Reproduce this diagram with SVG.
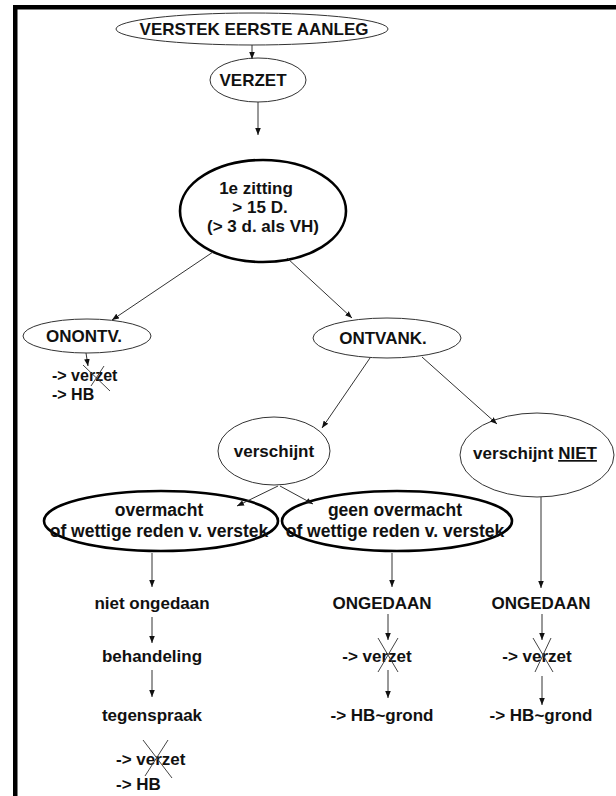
<svg xmlns="http://www.w3.org/2000/svg" width="616" height="796" viewBox="0 0 616 796">
<defs>
<marker id="ah" viewBox="0 0 8 8" refX="8" refY="4" markerWidth="7" markerHeight="7" markerUnits="userSpaceOnUse" orient="auto">
<path d="M0,0.8 L8,4 L0,7.2 Z" fill="#111"/>
</marker>
</defs>
<style>
text{font-family:"Liberation Sans",Arial,sans-serif;font-weight:bold;font-size:17px;fill:#111}
.c{text-anchor:middle}
.big{font-size:17.5px}
.sm{font-size:16px}
.thin{fill:#fff;stroke:#333;stroke-width:1}
.thick{fill:#fff;stroke:#000;stroke-width:2.6}
.con line{stroke:#333;stroke-width:1;marker-end:url(#ah)}
.x line{stroke:#444;stroke-width:1}
</style>
<rect x="0" y="0" width="616" height="796" fill="#fff"/>
<rect x="13" y="5" width="603" height="4.5" fill="#000"/>
<rect x="13" y="5" width="4.5" height="791" fill="#000"/>

<g id="verstek">
<ellipse class="thin" cx="252" cy="29" rx="136" ry="16"/>
<text class="c" x="254" y="35">VERSTEK EERSTE AANLEG</text>
</g>
<g id="verzet">
<ellipse class="thin" cx="258" cy="80" rx="48" ry="22"/>
<text class="c" x="253" y="86">VERZET</text>
</g>
<g id="zitting">
<ellipse class="thick" cx="263" cy="211" rx="83" ry="51"/>
<text class="c" x="256" y="194">1e zitting</text>
<text class="c" x="260" y="213">&gt; 15 D.</text>
<text class="c" x="263" y="232">(&gt; 3 d. als VH)</text>
</g>
<g id="onontv">
<ellipse class="thin" cx="87" cy="336" rx="64" ry="17"/>
<text class="c" x="84" y="342">ONONTV.</text>
</g>
<g id="onontv-res">
<text class="sm" x="52" y="381">-&gt; verzet</text>
<text class="sm" x="52" y="400">-&gt; HB</text>
</g>
<g id="ontvank">
<ellipse class="thin" cx="387" cy="338" rx="74" ry="20"/>
<text class="c" x="383" y="344">ONTVANK.</text>
</g>
<g id="verschijnt">
<ellipse class="thin" cx="274" cy="451" rx="56" ry="34"/>
<text class="c" x="274" y="457">verschijnt</text>
</g>
<g id="verschijnt-niet">
<ellipse class="thin" cx="537" cy="455" rx="77" ry="42"/>
<text class="c" x="535" y="459">verschijnt <tspan text-decoration="underline">NIET</tspan></text>
</g>
<g id="overmacht">
<ellipse class="thick" cx="161" cy="521" rx="117" ry="30"/>
<text class="c big" x="159" y="516">overmacht</text>
<text class="c big" x="159" y="537">of wettige reden v. verstek</text>
</g>
<g id="geen-overmacht">
<ellipse class="thick" cx="397" cy="521" rx="115" ry="30"/>
<text class="c big" x="395" y="516">geen overmacht</text>
<text class="c big" x="395" y="537">of wettige reden v. verstek</text>
</g>
<g id="niet-ongedaan"><text class="c" x="152" y="609">niet ongedaan</text></g>
<g id="behandeling"><text class="c" x="152" y="662">behandeling</text></g>
<g id="tegenspraak"><text class="c" x="152" y="721">tegenspraak</text></g>
<g id="tegenspraak-res">
<text x="116" y="765">-&gt; verzet</text>
<text x="116" y="790">-&gt; HB</text>
</g>
<g id="ongedaan-1"><text class="c" x="382" y="609">ONGEDAAN</text></g>
<g id="verzet-1"><text class="c" x="377" y="662">-&gt; verzet</text></g>
<g id="hbgrond-1"><text class="c" x="382" y="721">-&gt; HB~grond</text></g>
<g id="ongedaan-2"><text class="c" x="541" y="609">ONGEDAAN</text></g>
<g id="verzet-2"><text class="c" x="537" y="662">-&gt; verzet</text></g>
<g id="hbgrond-2"><text class="c" x="541" y="721">-&gt; HB~grond</text></g>

<g id="connectors" class="con">
<line x1="252" y1="45" x2="252" y2="59"/>
<line x1="258" y1="102" x2="258" y2="135"/>
<line x1="213" y1="252" x2="112" y2="320"/>
<line x1="287" y1="258" x2="352" y2="318"/>
<line x1="86" y1="353" x2="88" y2="366"/>
<line x1="370" y1="358" x2="322" y2="428"/>
<line x1="422" y1="357" x2="497" y2="424"/>
<line x1="278" y1="486" x2="237" y2="506"/>
<line x1="280" y1="486" x2="313" y2="504"/>
<line x1="152" y1="553" x2="152" y2="587"/>
<line x1="392" y1="553" x2="392" y2="587"/>
<line x1="541" y1="497" x2="541" y2="588"/>
<line x1="152" y1="617" x2="152" y2="643"/>
<line x1="152" y1="670" x2="152" y2="697"/>
<line x1="388" y1="614" x2="388" y2="640"/>
<line x1="388" y1="670" x2="388" y2="698"/>
<line x1="542" y1="614" x2="542" y2="640"/>
<line x1="542" y1="676" x2="542" y2="705"/>
</g>
<g id="strike" class="x">
<line x1="83" y1="365" x2="110" y2="391"/>
<line x1="104" y1="366" x2="91" y2="386"/>
<line x1="143" y1="740" x2="172" y2="778"/>
<line x1="168" y1="740" x2="145" y2="776"/>
<line x1="378" y1="638" x2="398" y2="672"/>
<line x1="398" y1="638" x2="378" y2="672"/>
<line x1="533" y1="638" x2="553" y2="672"/>
<line x1="551" y1="638" x2="535" y2="672"/>
</g>
</svg>
